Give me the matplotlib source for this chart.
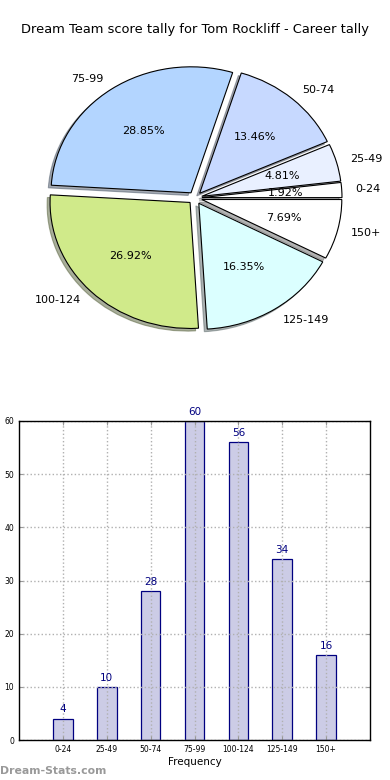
import numpy as np
import matplotlib
matplotlib.use('Agg')
import matplotlib.pyplot as plt

# --- data ---
categories = ['0-24', '25-49', '50-74', '75-99', '100-124', '125-149', '150+']
counts = [4, 10, 28, 60, 56, 34, 16]
slice_colors = ['#ffffff', '#e9f0ff', '#c7d9ff', '#b3d5ff', '#d0ea8a', '#dbffff', '#ffffff']

TITLE = 'Dream Team score tally for Tom Rockliff - Career tally'

fig = plt.figure(figsize=(3.9, 7.8), dpi=100)
W, H = 390.0, 780.0

fig.text(0.5, 1 - 30 / H, TITLE, ha='center', va='center', fontsize=9.4)

# pie (slightly squashed like the old output)
cx, cy, pw, ph = 195, 198, 300, 276
ax_pie = fig.add_axes([(cx - pw / 2) / W, 1 - (cy + ph / 2) / H, pw / W, ph / H])
wedges, texts, autotexts = ax_pie.pie(
    counts, labels=categories, colors=slice_colors, explode=[0.05] * len(counts),
    autopct='%1.2f%%', startangle=0, shadow={'ox': -0.015, 'oy': -0.015, 'shade': 0.6},
    labeldistance=1.1, pctdistance=0.6,
    wedgeprops={'edgecolor': 'black', 'linewidth': 0.8},
    textprops={'fontsize': 8})
ax_pie.set_aspect('auto')
ax_pie.set_xlim(-pw / 280.0, pw / 280.0)
ax_pie.set_ylim(-ph / 252.0, ph / 252.0)
ax_pie.axis('off')

# bar chart
ax = fig.add_axes([19 / W, 1 - 740 / H, (370 - 19) / W, (740 - 421) / H])
x = np.arange(len(categories))
bars = ax.bar(x, counts, width=0.45, color='#ccccE6', edgecolor='#000080', linewidth=0.9, zorder=1)
for xi, v in zip(x, counts):
    ax.text(xi, v + 0.8, str(v), ha='center', va='bottom', color='#000080', fontsize=7.5)

ax.set_xlim(-1, 7)
ax.set_ylim(0, 60)
ax.set_xticks(x)
ax.set_xticklabels(categories, fontsize=5.5)
ax.set_yticks(range(0, 61, 10))
ax.tick_params(axis='y', labelsize=5.5)
ax.tick_params(direction='in', top=True, right=True, length=3, color='#999999')
ax.set_xlabel('Frequency', fontsize=7.5, labelpad=2)
ax.set_axisbelow(False)
ax.grid(True, linestyle=':', color='#b0b0b0', linewidth=1)
for s in ax.spines.values():
    s.set_linewidth(1)
    s.set_zorder(5)

fig.text(0.0, 1 - 771 / H, 'Dream-Stats.com', ha='left', va='center',
         fontsize=7.8, color='#999999', fontweight='bold')

plt.savefig('out.png', dpi=100)
